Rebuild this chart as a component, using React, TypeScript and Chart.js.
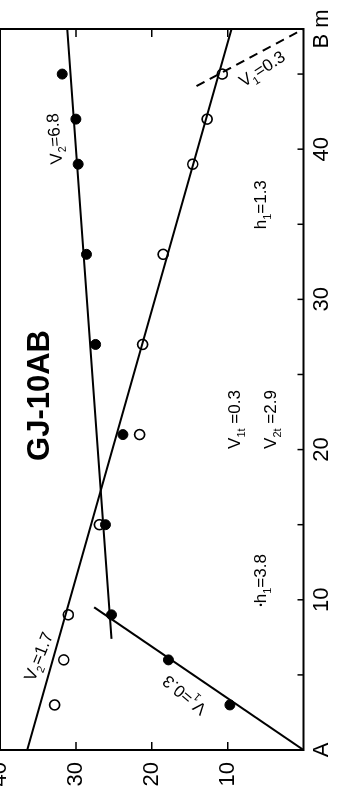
import React, { useEffect, useRef } from "react";
import { Chart, registerables } from "chart.js";

Chart.register(...registerables);

// ---- data (distance in m, time in ms) ----
const distances = [3, 6, 9, 15, 21, 27, 33, 39, 42, 45];
const forwardTimes = [9.7, 17.8, 25.3, 26.1, 23.8, 27.4, 28.6, 29.7, 30.0, 31.8];
const reverseTimes = [32.8, 31.6, 31.0, 26.9, 21.6, 21.2, 18.5, 14.6, 12.7, 10.7];

const v1ForwardX = [0, 9.5];
const v1ForwardY = [0, 27.6];
const v2ForwardX = [7.4, 48];
const v2ForwardY = [25.3, 31.15];
const reverseX = [0, 48];
const reverseY = [36.4, 9.5];
const v1ReverseX = [44.2, 48];
const v1ReverseY = [14.1, 0];

const xTickValues = [0, 10, 20, 30, 40, 48];
const xTickLabels = ["A", "10", "20", "30", "40", "B m"];
const xMinorTicks = [5, 10, 15, 20, 25, 30, 35, 40, 45];
const yTickValues = [10, 20, 30, 40];

type Seg = { t: string; sub?: boolean; small?: boolean };
const notes: { segs: Seg[]; x: number; y: number; angle: number; size: number; bold?: boolean }[] = [
  { segs: [{ t: "GJ-10AB" }], x: 23.6, y: 34.7, angle: 0, size: 31, bold: true },
  { segs: [{ t: "V" }, { t: "2", sub: true }, { t: "=6.8" }], x: 40.7, y: 32.7, angle: -5, size: 17 },
  { segs: [{ t: "V" }, { t: "1", sub: true }, { t: "=0.3" }], x: 45.3, y: 5.4, angle: 57, size: 17 },
  { segs: [{ t: "h" }, { t: "1", sub: true }, { t: "=1.3" }], x: 36.3, y: 5.5, angle: 0, size: 17 },
  { segs: [{ t: "V" }, { t: "1t", sub: true }, { t: " =0.3" }], x: 22, y: 9.0, angle: 0, size: 17 },
  { segs: [{ t: "V" }, { t: "2t", sub: true }, { t: " =2.9" }], x: 22, y: 4.2, angle: 0, size: 17 },
  { segs: [{ t: "•", small: true }, { t: "h" }, { t: "1", sub: true }, { t: "=3.8" }], x: 11.3, y: 5.5, angle: 0, size: 17 },
  { segs: [{ t: "V" }, { t: "2", sub: true }, { t: "=1.7" }], x: 6.2, y: 34.8, angle: 22, size: 17 },
  { segs: [{ t: "V" }, { t: "1", sub: true }, { t: "=0.3" }], x: 3.7, y: 15.6, angle: -50, size: 17 },
];

const FONT = '"Liberation Sans", Arial, sans-serif';
const T = 26; // canvas top offset hidden off-screen
const W = 792;
const H = 341 + T;

const pts = (xs: number[], ys: number[]) => xs.map((x, i) => ({ x, y: ys[i] }));

const framePlugin = {
  id: "frame",
  beforeDatasetsDraw(chart: any) {
    const { ctx, chartArea: a, scales } = chart;
    ctx.save();
    ctx.strokeStyle = "#000";
    ctx.lineWidth = 2;
    ctx.strokeRect(a.left, a.top, a.right - a.left, a.bottom - a.top);
    ctx.lineWidth = 1.5;
    ctx.beginPath();
    xMinorTicks.forEach((v) => {
      const px = scales.x.getPixelForValue(v);
      ctx.moveTo(px, a.bottom);
      ctx.lineTo(px, a.bottom - 6);
    });
    yTickValues.forEach((v) => {
      if (v >= 40) return;
      const py = scales.y.getPixelForValue(v);
      ctx.moveTo(a.left, py);
      ctx.lineTo(a.left + 8, py);
      ctx.moveTo(a.right, py);
      ctx.lineTo(a.right - 8, py);
    });
    ctx.stroke();
    ctx.restore();
  },
  afterDatasetsDraw(chart: any) {
    const { ctx, scales } = chart;
    notes.forEach((n) => {
      const cx = scales.x.getPixelForValue(n.x);
      const cy = scales.y.getPixelForValue(n.y);
      const main = `${n.bold ? "bold " : ""}${n.size}px ${FONT}`;
      const sub = `${Math.round(n.size * 0.65)}px ${FONT}`;
      const small = `${Math.round(n.size * 0.55)}px ${FONT}`;
      ctx.save();
      ctx.translate(cx, cy);
      ctx.rotate((n.angle * Math.PI) / 180);
      ctx.fillStyle = "#000";
      ctx.textAlign = "left";
      ctx.textBaseline = "middle";
      const widths = n.segs.map((s) => {
        ctx.font = s.sub ? sub : s.small ? small : main;
        return ctx.measureText(s.t).width;
      });
      let x = -widths.reduce((p, c) => p + c, 0) / 2;
      n.segs.forEach((s, i) => {
        ctx.font = s.sub ? sub : s.small ? small : main;
        ctx.fillText(s.t, x, s.sub ? n.size * 0.38 : 0);
        x += widths[i];
      });
      ctx.restore();
    });
  },
};

export default function App() {
  const ref = useRef<HTMLCanvasElement>(null);
  useEffect(() => {
    if (!ref.current) return;
    const lineStyle = {
      showLine: true,
      pointRadius: 0,
      borderColor: "#000",
      borderWidth: 2,
      backgroundColor: "#000",
    };
    const chart = new Chart(ref.current, {
      type: "scatter",
      data: {
        datasets: [
          { ...lineStyle, data: pts(v1ForwardX, v1ForwardY) },
          { ...lineStyle, data: pts(v2ForwardX, v2ForwardY) },
          { ...lineStyle, data: pts(reverseX, reverseY) },
          { ...lineStyle, borderDash: [9, 6], data: pts(v1ReverseX, v1ReverseY) },
          {
            data: pts(distances, forwardTimes),
            pointRadius: 5,
            pointBackgroundColor: "#000",
            pointBorderColor: "#000",
            pointBorderWidth: 1,
          },
          {
            data: pts(distances, reverseTimes),
            pointRadius: 5,
            pointBackgroundColor: "#fff",
            pointBorderColor: "#000",
            pointBorderWidth: 1.6,
          },
        ] as any,
      },
      options: {
        responsive: false,
        animation: false,
        events: [],
        layout: { padding: { top: T, right: 29, bottom: 0, left: 0 } },
        plugins: { legend: { display: false }, tooltip: { enabled: false } },
        scales: {
          x: {
            type: "linear",
            min: 0,
            max: 48,
            grid: { display: false, drawTicks: false },
            border: { display: false },
            afterBuildTicks: (s: any) => {
              s.ticks = xTickValues.map((v) => ({ value: v }));
            },
            afterFit: (s: any) => {
              s.height = 37.5;
            },
            ticks: {
              autoSkip: false,
              maxRotation: 0,
              padding: 5,
              color: "#000",
              font: { family: FONT, size: 22 },
              callback: (v: any) => {
                const i = xTickValues.indexOf(Number(v));
                return i >= 0 ? xTickLabels[i] : "";
              },
            },
          },
          y: {
            type: "linear",
            min: 0,
            max: 40,
            grid: { display: false, drawTicks: false },
            border: { display: false },
            afterBuildTicks: (s: any) => {
              s.ticks = yTickValues.map((v) => ({ value: v }));
            },
            afterFit: (s: any) => {
              s.width = 42;
            },
            ticks: {
              autoSkip: false,
              padding: 12,
              color: "#000",
              font: { family: FONT, size: 22 },
            },
          },
        },
      },
      plugins: [framePlugin],
    });
    return () => chart.destroy();
  }, []);

  return (
    <div
      style={{
        position: "fixed",
        left: 0,
        top: 0,
        width: 341,
        height: 792,
        overflow: "hidden",
        background: "#fff",
      }}
    >
      <div
        style={{
          position: "absolute",
          left: 0,
          top: 0,
          width: W,
          height: H,
          transformOrigin: "0 0",
          transform: `translate(${-T}px, 792px) rotate(-90deg)`,
        }}
      >
        <canvas ref={ref} width={W} height={H} style={{ display: "block", width: W, height: H }} />
      </div>
    </div>
  );
}
